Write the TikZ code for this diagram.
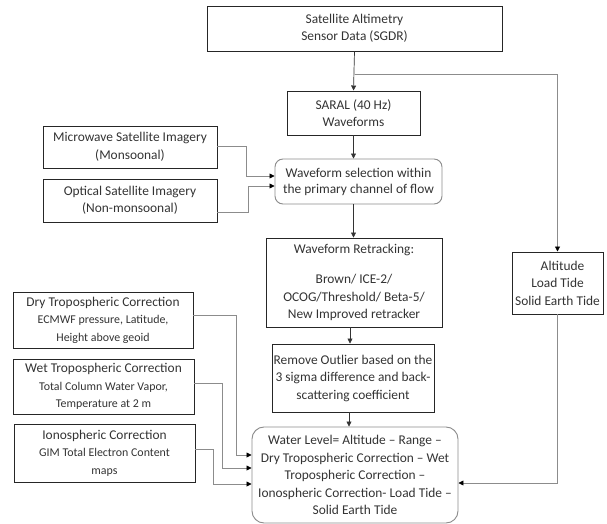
\documentclass[tikz,border=0pt]{standalone}
\usepackage{fontspec}
\setmainfont{Carlito}
\usetikzlibrary{arrows.meta,calc}
\newcommand{\smalltxt}{\fontsize{11.9}{16}\selectfont}
\begin{document}
\begin{tikzpicture}[x=1pt,y=-1pt,
  box/.style={draw=black!85, line width=0.95pt, align=center, inner sep=0pt,
    font=\fontsize{13.4}{17.5}\selectfont, text=black!80},
  rbox/.style={box, draw=black!45, rounded corners=8pt},
  arr/.style={-{Triangle[length=5pt,width=5pt]}, line width=0.7pt, draw=black!80},
  garr/.style={-{Triangle[length=5pt,width=5pt,color=black]}, line width=0.8pt, draw=black!45}
]
\useasboundingbox (0,0) rectangle (607,524);

\node[box, minimum width=295pt, minimum height=45pt] (top) at (354.5,28.5) {Satellite Altimetry\\Sensor Data (SGDR)};
\node[box, minimum width=133pt, minimum height=44pt] (saral) at (353.5,113) {SARAL (40 Hz)\\Waveforms};
\node[box, minimum width=174pt, minimum height=42pt] (micro) at (130,147) {Microwave Satellite Imagery\\(Monsoonal)};
\node[box, minimum width=174pt, minimum height=43pt] (optical) at (130,200.5) {Optical Satellite Imagery\\(Non-monsoonal)};
\node[rbox, minimum width=167pt, minimum height=45pt, font=\fontsize{13.4}{16}\selectfont] (select) at (358.5,181.5) {Waveform selection within\\the primary channel of flow};
\node[box, minimum width=176pt, minimum height=89pt] (retrack) at (354,282.5) {Waveform Retracking:\\[13pt]Brown/ ICE-2/\\OCOG/Threshold/ Beta-5/\\New Improved retracker};
\node[box, minimum width=162pt, minimum height=68pt] (remove) at (353,378) {Remove Outlier based on the\\3 sigma difference and back-\\scattering coefficient};
\node[rbox, minimum width=206pt, minimum height=96pt, rounded corners=12pt] (water) at (355,475) {Water Level= Altitude -- Range --\\Dry Tropospheric Correction -- Wet\\Tropospheric Correction --\\Ionospheric Correction- Load Tide --\\Solid Earth Tide};
\node[box, minimum width=91pt, minimum height=62pt] (alt) at (557.5,283) {\hspace*{10pt}Altitude\\Load Tide\\Solid Earth Tide};
\node[box, minimum width=180pt, minimum height=56pt] (dry) at (103,320) {Dry Tropospheric Correction\\\smalltxt ECMWF pressure, Latitude,\\\smalltxt Height above geoid};
\node[box, minimum width=181pt, minimum height=55pt] (wet) at (103.5,386.5) {Wet Tropospheric Correction\\\smalltxt Total Column Water Vapor,\\\smalltxt Temperature at 2 m};
\node[box, minimum width=181pt, minimum height=58pt] (iono) at (104.5,453) {Ionospheric Correction\\\smalltxt GIM Total Electron Content\\\smalltxt maps};

% main flow
\draw[arr] (top.south) -- (saral.north);
\draw[garr] (top.south |- 0,74.5) -| (alt.north);
\draw[arr] (saral.south) -- (select.north -| saral.south);
\draw[arr] (select.south -| saral.south) -- (retrack.north -| saral.south);
\draw[arr] ($(retrack.south)+(-4,0)$) -- ($(remove.north)+(-3,0)$);
\draw[arr] ($(remove.south)+(-4,0)$) -- ($(water.north)+(-6,0)$);

% imagery inputs
\draw[garr] ($(micro.east)+(0,-1)$) -- (246,146) |- ($(select.west)+(0,-5.5)$);
\draw[garr] ($(optical.east)+(0,11.5)$) -- (248,212) |- ($(select.west)+(0,4.5)$);

% corrections
\draw[garr] ($(dry.east)+(0,-5)$) -- (236,315) |- ($(water.west)+(0,-20)$);
\draw[garr] ($(wet.east)+(0,-3.5)$) -- (222,383) |- ($(water.west)+(0,-7)$);
\draw[garr] ($(iono.east)+(0,-4)$) -- (213,449) |- ($(water.west)+(0,9)$);
\draw[garr] (alt.south) |- ($(water.east)+(0,8)$);
\end{tikzpicture}
\end{document}
